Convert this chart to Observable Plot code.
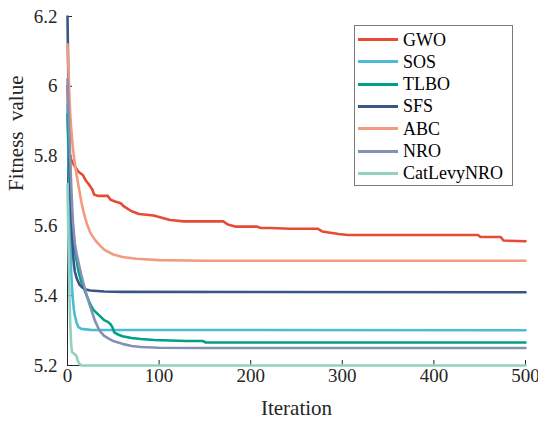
<!DOCTYPE html>
<html><head><meta charset="utf-8">
<script src="https://cdn.jsdelivr.net/npm/d3@7"></script>
<script src="https://cdn.jsdelivr.net/npm/@observablehq/plot@0.6"></script>
<style>
body{margin:0;background:#fff;}
#wrap{position:relative;width:538px;height:423px;font-family:"Liberation Serif",serif;}
#legend{position:absolute;left:354px;top:25px;width:159px;height:161px;border:1px solid #7a7a7a;background:#fff;box-sizing:border-box;padding-top:2.4px}
.row{display:flex;align-items:center;height:22.3px;}
.sw{width:40px;height:3px;margin-left:3px;margin-right:5px}
.lab{font-family:"Liberation Serif",serif;font-size:18px;color:#000;line-height:1}
svg text{font-family:"Liberation Serif",serif;}
</style></head>
<body><div id="wrap"></div>
<script>
const algos = ["GWO","SOS","TLBO","SFS","ABC","NRO","CatLevyNRO"];
const colors = ["#E64B35","#4DBBD5","#00A087","#3C5488","#F39B7F","#8491B4","#91D1C2"];
const xDomain = [0, 500];
const yDomain = [5.2, 6.2];
const xTicks = [0, 100, 200, 300, 400, 500];
const yTicks = [5.2, 5.4, 5.6, 5.8, 6, 6.2];

const GWO = [[0,6.0],[1,5.86],[2,5.81],[4,5.79],[8,5.77],[12,5.755],[17,5.745],[20,5.73],[23,5.72],[27,5.705],[29,5.69],[33,5.686],[44,5.686],[47,5.675],[52,5.67],[58,5.665],[62,5.655],[65,5.65],[70,5.642],[78,5.634],[94,5.63],[102,5.624],[112,5.617],[127,5.613],[170,5.613],[175,5.604],[183,5.598],[207,5.598],[211,5.594],[222,5.594],[243,5.592],[273,5.592],[278,5.584],[296,5.577],[306,5.574],[448,5.574],[451,5.568],[473,5.568],[476,5.558],[500,5.556]];
const SOS = [[0,5.95],[1,5.8],[2,5.66],[3,5.55],[4,5.47],[5,5.42],[6,5.385],[7,5.36],[8,5.343],[10,5.322],[12,5.31],[15,5.305],[25,5.302],[500,5.301]];
const TLBO = [[0,5.92],[1,5.84],[2,5.77],[3,5.71],[4,5.66],[5,5.62],[6,5.58],[8,5.53],[10,5.5],[12,5.47],[15,5.44],[18,5.42],[21,5.4],[25,5.375],[28,5.36],[32,5.35],[36,5.34],[40,5.33],[44,5.325],[47,5.318],[49,5.31],[51,5.295],[55,5.289],[60,5.284],[70,5.279],[80,5.276],[95,5.273],[130,5.27],[148,5.27],[151,5.266],[500,5.266]];
const SFS = [[0,6.2],[1,6.0],[2,5.85],[3,5.72],[4,5.63],[5,5.57],[6,5.52],[7,5.49],[8,5.47],[10,5.45],[13,5.432],[16,5.424],[20,5.418],[25,5.415],[40,5.412],[60,5.411],[500,5.41]];
const ABC = [[0,6.12],[1,6.05],[2,5.98],[3,5.92],[4,5.88],[5,5.85],[6,5.82],[8,5.78],[10,5.745],[12,5.715],[15,5.67],[18,5.635],[21,5.607],[25,5.58],[30,5.56],[35,5.545],[40,5.532],[50,5.518],[60,5.511],[75,5.506],[100,5.502],[150,5.5],[500,5.5]];
const NRO = [[0,6.02],[1,5.94],[2,5.86],[3,5.79],[4,5.72],[5,5.66],[6,5.61],[8,5.55],[10,5.52],[12,5.495],[15,5.46],[18,5.43],[21,5.40],[25,5.367],[30,5.328],[35,5.3],[40,5.285],[45,5.277],[50,5.27],[60,5.262],[70,5.256],[80,5.253],[100,5.251],[150,5.25],[500,5.25]];
const CatLevyNRO = [[0,5.72],[1,5.55],[2,5.42],[3,5.32],[4,5.26],[5,5.238],[8,5.232],[10,5.226],[11,5.215],[13,5.205],[15,5.2],[500,5.2]];

const seriesData = [GWO, SOS, TLBO, SFS, ABC, NRO, CatLevyNRO];
const rows = seriesData.map((s, i) => s.map(([iter, value]) => ({algo: algos[i], iter, value})));

const axisColor = "#262626";
const serif = '"Liberation Serif", serif';
const chart = Plot.plot({
  width: 538, height: 423,
  marginLeft: 67, marginRight: 13, marginTop: 16, marginBottom: 58,
  style: {fontFamily: serif, fontSize: "19px", color: axisColor, background: "white", overflow: "visible"},
  x: {domain: xDomain, label: null},
  y: {domain: yDomain, label: null},
  color: {domain: algos, range: colors},
  marks: [
    Plot.ruleX([xDomain[0]], {stroke: axisColor}),
    Plot.ruleY([yDomain[0]], {stroke: axisColor}),
    Plot.axisX(xTicks, {anchor: "bottom", tickSize: 5, dy: -5, tickFormat: () => "", label: null, stroke: axisColor}),
    Plot.axisY(yTicks, {anchor: "left", tickSize: 5, dx: 5, tickFormat: () => "", label: null, stroke: axisColor}),
    Plot.axisX(xTicks, {anchor: "bottom", tickSize: 0, tickPadding: 3, label: null, fill: axisColor, fontFamily: serif, fontSize: 19, tickFormat: d => `${d}`}),
    Plot.axisY(yTicks, {anchor: "left", tickSize: 0, tickPadding: 10, label: null, fill: axisColor, fontFamily: serif, fontSize: 19, tickFormat: d => `${d}`}),
    ...rows.map((r, i) => Plot.line(r, {x: "iter", y: "value", stroke: colors[i], strokeWidth: 2.6, strokeLinejoin: "round"})),
    Plot.text(["Iteration"], {text: d => d, frameAnchor: "bottom", dy: 49, fontSize: 21, fontFamily: serif, fill: axisColor}),
    Plot.text(["Fitness  value"], {text: d => d, frameAnchor: "left", dx: -51, rotate: -90, fontSize: 21, fontFamily: serif, fill: axisColor})
  ]
});
const wrap = document.getElementById("wrap");
wrap.appendChild(chart);
const legend = document.createElement("div");
legend.id = "legend";
algos.forEach((a, i) => {
  const row = document.createElement("div");
  row.className = "row";
  const sw = document.createElement("div");
  sw.className = "sw";
  sw.style.background = colors[i];
  const lab = document.createElement("span");
  lab.className = "lab";
  lab.textContent = a;
  row.appendChild(sw); row.appendChild(lab);
  legend.appendChild(row);
});
wrap.appendChild(legend);
</script></body></html>
